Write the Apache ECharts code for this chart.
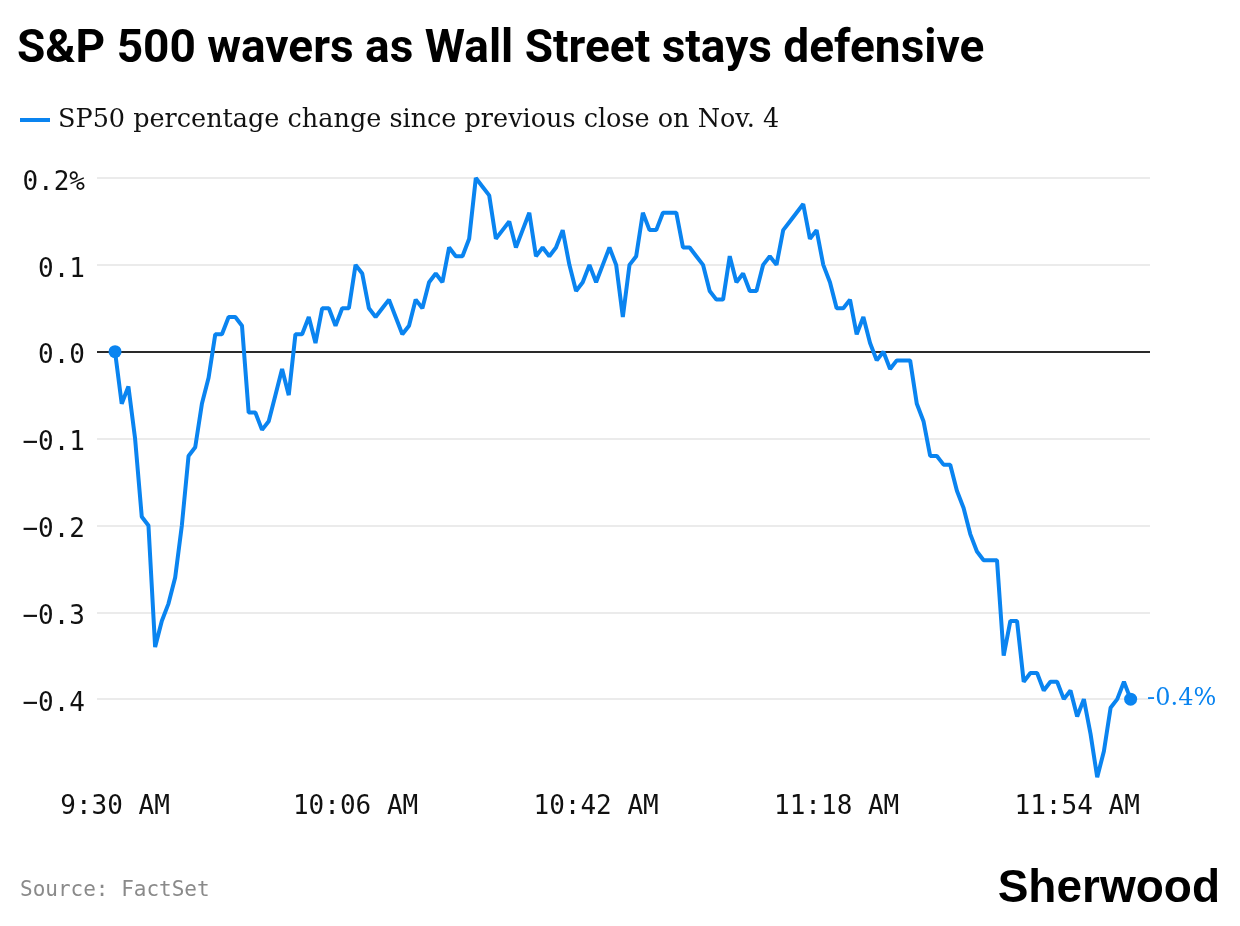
<!DOCTYPE html>
<html>
<head>
<meta charset="utf-8">
<style>
  html, body { margin: 0; padding: 0; background: #ffffff; }
  #chart { width: 1240px; height: 926px; }
</style>
<script src="https://cdn.jsdelivr.net/npm/echarts@6/dist/echarts.min.js"></script>
</head>
<body>
<div id="chart"></div>
<script>
// Minutes since 9:30 AM (one point per minute)
const values = [
  0.00, -0.06, -0.04, -0.10, -0.19, -0.20, -0.34, -0.31, -0.29, -0.26,
  -0.20, -0.12, -0.11, -0.06, -0.03, 0.02, 0.02, 0.04, 0.04, 0.03,
  -0.07, -0.07, -0.09, -0.08, -0.05, -0.02, -0.05, 0.02, 0.02, 0.04,
  0.01, 0.05, 0.05, 0.03, 0.05, 0.05, 0.10, 0.09, 0.05, 0.04,
  0.05, 0.06, 0.04, 0.02, 0.03, 0.06, 0.05, 0.08, 0.09, 0.08,
  0.12, 0.11, 0.11, 0.13, 0.20, 0.19, 0.18, 0.13, 0.14, 0.15,
  0.12, 0.14, 0.16, 0.11, 0.12, 0.11, 0.12, 0.14, 0.10, 0.07,
  0.08, 0.10, 0.08, 0.10, 0.12, 0.10, 0.04, 0.10, 0.11, 0.16,
  0.14, 0.14, 0.16, 0.16, 0.16, 0.12, 0.12, 0.11, 0.10, 0.07,
  0.06, 0.06, 0.11, 0.08, 0.09, 0.07, 0.07, 0.10, 0.11, 0.10,
  0.14, 0.15, 0.16, 0.17, 0.13, 0.14, 0.10, 0.08, 0.05, 0.05,
  0.06, 0.02, 0.04, 0.01, -0.01, 0.00, -0.02, -0.01, -0.01, -0.01,
  -0.06, -0.08, -0.12, -0.12, -0.13, -0.13, -0.16, -0.18, -0.21, -0.23,
  -0.24, -0.24, -0.24, -0.35, -0.31, -0.31, -0.38, -0.37, -0.37, -0.39,
  -0.38, -0.38, -0.40, -0.39, -0.42, -0.40, -0.44, -0.49, -0.46, -0.41,
  -0.40, -0.38, -0.40
];
const tickMinutes = [0, 36, 72, 108, 144];
const tickLabels = ['9:30 AM', '10:06 AM', '10:42 AM', '11:18 AM', '11:54 AM'];
const seriesName = 'SP50 percentage change since previous close on Nov. 4';

const BLUE = '#0a84f0';
const lineData = values.map((v, i) => [i, v]);
const last = values.length - 1;
const endPoints = [[0, values[0]], [last, values[last]]];

const chart = echarts.init(document.getElementById('chart'), null, { renderer: 'canvas' });

function yLabel(v) {
  const r = Math.round(v * 10) / 10;
  let s;
  if (r <= -0.5) return '';
  if (Math.abs(r - 0.2) < 1e-9) s = '0.2%';
  else if (r === 0) s = '0.0';
  else if (r < 0) s = '\u2212' + Math.abs(r).toFixed(1);
  else s = r.toFixed(1);
  return '{t|' + s + '}';
}

chart.setOption({
  animation: false,
  backgroundColor: '#ffffff',
  title: {
    text: 'S&P 500 wavers as Wall Street stays defensive',
    left: 17,
    top: 27,
    padding: 0,
    textStyle: { fontFamily: 'Roboto', fontWeight: 'bold', fontSize: 46, color: '#000000' }
  },
  legend: {
    left: 20,
    top: 107,
    padding: 0,
    icon: 'rect',
    itemWidth: 30,
    itemHeight: 4,
    data: [seriesName],
    selectedMode: false,
    textStyle: { fontFamily: 'DejaVu Serif', fontSize: 25.5, color: '#111111', padding: [0, 0, 0, 3] }
  },
  grid: { left: 97, right: 90, top: 178, bottom: 140, containLabel: false },
  xAxis: {
    type: 'value',
    min: -2.7,
    max: 154.9,
    axisLine: { show: false },
    axisTick: { show: false },
    splitLine: { show: false },
    axisLabel: {
      customValues: tickMinutes,
      formatter: (v) => { const k = tickMinutes.indexOf(Math.round(v)); return k >= 0 ? tickLabels[k] : ''; },
      fontFamily: 'DejaVu Sans Mono',
      fontSize: 26,
      color: '#111111',
      margin: 8
    }
  },
  yAxis: {
    type: 'value',
    min: -0.5,
    max: 0.2,
    interval: 0.1,
    axisLine: { show: false },
    axisTick: { show: false },
    splitLine: {
      show: true,
      lineStyle: {
        color: ['rgba(0,0,0,0)', '#e4e4e4', '#e4e4e4', '#e4e4e4', '#e4e4e4', '#e4e4e4', '#e4e4e4', '#e4e4e4'],
        width: 1.5
      }
    },
    axisLabel: {
      formatter: yLabel,
      align: 'right',
      verticalAlign: 'middle',
      margin: 12,
      rich: {
        t: {
          fontFamily: 'DejaVu Sans Mono',
          fontSize: 26,
          color: '#111111',
          lineHeight: 26,
          padding: [10, 0, 0, 0]
        }
      }
    }
  },
  series: [
    {
      name: seriesName,
      type: 'line',
      data: lineData,
      showSymbol: false,
      symbol: 'none',
      lineStyle: { color: BLUE, width: 4 },
      itemStyle: { color: BLUE },
      z: 3,
      markLine: {
        silent: true,
        symbol: ['none', 'none'],
        label: { show: false },
        lineStyle: { color: '#2a2a2a', width: 2, type: 'solid' },
        data: [{ yAxis: 0 }],
        z: 2
      }
    },
    {
      name: 'ends',
      type: 'scatter',
      data: endPoints,
      symbolSize: 13,
      itemStyle: { color: BLUE, opacity: 1 },
      z: 4,
      label: {
        show: true,
        position: 'right',
        distance: 10,
        formatter: (p) => p.dataIndex === 1 ? (Math.round(p.value[1] * 10) / 10).toFixed(1) + '%' : '',
        fontFamily: 'DejaVu Serif',
        fontSize: 24,
        color: BLUE
      }
    }
  ],
  graphic: [
    {
      type: 'text',
      left: 20,
      top: 880,
      style: { text: 'Source: FactSet', fontFamily: 'DejaVu Sans Mono', fontSize: 21, fill: '#8a8a8a' }
    },
    {
      type: 'text',
      right: 20,
      top: 866,
      style: { text: 'Sherwood', fontFamily: 'Liberation Sans', fontWeight: 900, fontSize: 46, fill: '#000000' }
    }
  ]
});
</script>
</body>
</html>
